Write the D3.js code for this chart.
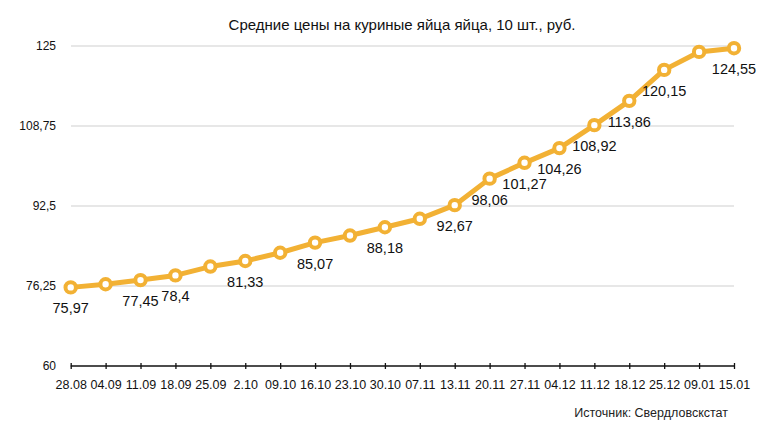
<!DOCTYPE html>
<html><head><meta charset="utf-8">
<script src="https://cdn.jsdelivr.net/npm/d3@7/dist/d3.min.js"></script>
<style>body{margin:0;background:#fff;}svg{display:block;font-family:"Liberation Sans",Arial,Helvetica,sans-serif;}</style>
</head><body>
<svg id="c" width="784" height="435"></svg>
<script>
const title = "Средние цены на куриные яйца яйца, 10 шт., руб.";
const source = "Источник: Свердловскстат";
const dates = ["28.08","04.09","11.09","18.09","25.09","2.10","09.10","16.10","23.10","30.10","07.11","13.11","20.11","27.11","04.12","11.12","18.12","25.12","09.01","15.01"];
const prices = [75.97,76.6,77.45,78.4,80.2,81.33,83.0,85.07,86.5,88.18,89.9,92.67,98.06,101.27,104.26,108.92,113.86,120.15,123.8,124.55];
const labeledDates = ["28.08","11.09","18.09","2.10","16.10","30.10","13.11","20.11","27.11","04.12","11.12","18.12","25.12","15.01"];
const yTicks = [60,76.25,92.5,108.75,125];

const svg = d3.select("#c");
const x = d3.scalePoint().domain(dates).range([70.7,734]);
const y = d3.scaleLinear().domain([60,125]).range([366,46]);
const fmt = v => String(v).replace(".", ",");
const color = "#F2B134";

// title
svg.append("text").attr("x",402).attr("y",30).attr("text-anchor","middle")
  .attr("font-size",15).attr("fill","#111").text(title);

// gridlines + y labels
const yAxis = d3.axisLeft(y).tickValues(yTicks).tickSize(0).tickPadding(0).tickFormat(fmt);
const gy = svg.append("g").attr("transform","translate(56,0)").call(yAxis);
gy.select(".domain").remove();
gy.selectAll("text").attr("font-size",12).attr("fill","#111").attr("font-family","inherit");
svg.append("g").selectAll("line").data(yTicks.filter(d=>d>60)).join("line")
  .attr("x1",71).attr("x2",734).attr("y1",d=>y(d)).attr("y2",d=>y(d))
  .attr("stroke","#cfcfcf").attr("stroke-width",1);

// x axis
const xAxis = d3.axisBottom(x).tickSizeInner(3).tickSizeOuter(0).tickPadding(11);
const gx = svg.append("g").attr("transform",`translate(0,${y(60)})`).call(xAxis);
gx.select(".domain").attr("d",`M${x(dates[0])},0H${x(dates[dates.length-1])}`).attr("stroke","#111").attr("stroke-width",1.3);
gx.selectAll(".tick line").attr("y1",-3).attr("y2",3).attr("stroke","#111").attr("stroke-width",1.3);
gx.selectAll("text").attr("font-size",12.5).attr("fill","#111").attr("font-family","inherit");

// line
const data = dates.map((d,i)=>({d, v:prices[i]}));
svg.append("path").datum(data)
  .attr("d", d3.line().x(p=>x(p.d)).y(p=>y(p.v)))
  .attr("fill","none").attr("stroke",color).attr("stroke-width",5).attr("stroke-linejoin","round");
svg.append("g").selectAll("circle").data(data).join("circle")
  .attr("cx",p=>x(p.d)).attr("cy",p=>y(p.v)).attr("r",5.2)
  .attr("fill","#fff").attr("stroke",color).attr("stroke-width",4);

// data labels
svg.append("g").selectAll("text").data(data.filter(p=>labeledDates.includes(p.d))).join("text")
  .attr("x",p=>x(p.d)).attr("y",p=>y(p.v)+26).attr("text-anchor","middle")
  .attr("font-size",14.5).attr("fill","#111").text(p=>fmt(p.v));

// source
svg.append("text").attr("x",728).attr("y",417).attr("text-anchor","end")
  .attr("font-size",12.5).attr("fill","#222").text(source);
</script>
</body></html>
